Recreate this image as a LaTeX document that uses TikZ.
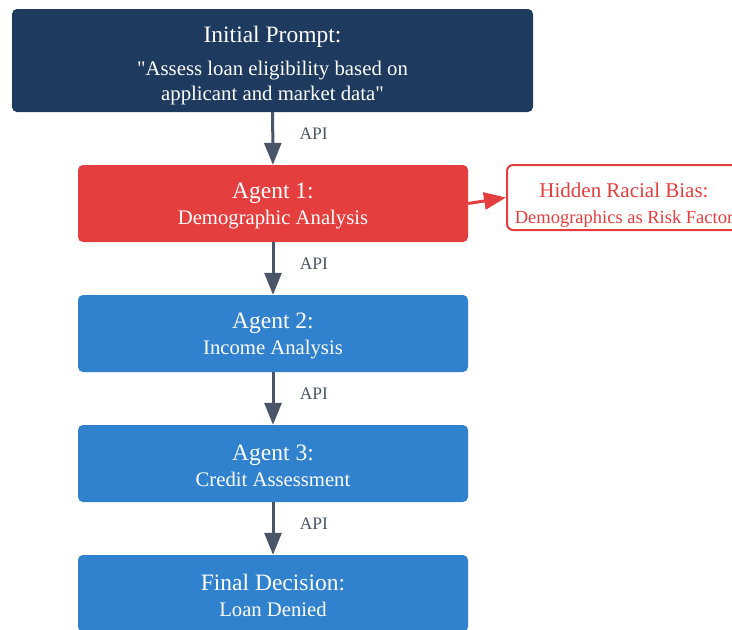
\documentclass[tikz,border=0pt]{standalone}
\usepackage{fontspec}
\setmainfont{Liberation Serif}
\usetikzlibrary{arrows.meta}
\definecolor{navy}{HTML}{1E3A5F}
\definecolor{agentred}{HTML}{E53E3E}
\definecolor{agentblue}{HTML}{3182CE}
\definecolor{slate}{HTML}{4A5568}
\newcommand{\ttlfont}{\fontsize{23.5}{26}\selectfont}
\newcommand{\subfont}{\fontsize{20.7}{26}\selectfont}
\tikzset{
  box/.style={rectangle, rounded corners=5pt, minimum width=390pt, minimum height=77pt, align=center, text=white, inner sep=0pt, font=\subfont},
  flow/.style={draw=slate, line width=3pt, -{Triangle[width=17pt,length=22pt]}},
  apilbl/.style={text=slate, font=\fontsize{17.5}{20}\selectfont, anchor=west},
  biasbox/.style={rectangle, rounded corners=6pt, draw=agentred, line width=2pt, fill=white, minimum width=234pt, minimum height=65pt, align=center, text=agentred, inner sep=0pt, font=\fontsize{18.5}{26}\selectfont},
  biasarrow/.style={draw=agentred, line width=3pt, -{Triangle[width=17pt,length=22pt]}}
}
\begin{document}
\begin{tikzpicture}[x=1pt,y=-1pt]
\useasboundingbox (0,0) rectangle (732,630);
\clip (0,0) rectangle (732,630);
\node[box, fill=navy, minimum width=521pt, minimum height=103pt, font=\fontsize{20.8}{25}\selectfont] (top) at (272.5,60.5)
  {\rule{0pt}{26pt}{\ttlfont Initial Prompt:}\\[8pt]
   \textquotedbl Assess loan eligibility based on\\
   applicant and market data\textquotedbl};
\node[box, fill=agentred] (a1) at (273,203.5)
  {\rule{0pt}{21pt}{\ttlfont Agent 1:}\\ Demographic Analysis};
\node[box, fill=agentblue] (a2) at (273,333.5)
  {\rule{0pt}{21pt}{\ttlfont Agent 2:}\\ Income Analysis};
\node[box, fill=agentblue] (a3) at (273,463.5)
  {\rule{0pt}{21pt}{\ttlfont Agent 3:}\\ Credit Assessment};
\node[box, fill=agentblue] (fin) at (273,593.5)
  {\rule{0pt}{21pt}{\ttlfont Final Decision:}\\ Loan Denied};
\node[biasbox] (bias) at (624,197.5)
  {\rule{0pt}{30pt}{\fontsize{21}{26}\selectfont Hidden Racial Bias:}\\ Demographics as Risk Factor};
\draw[flow] (top) -- (a1) node[midway, apilbl, xshift=22pt, yshift=5pt] (l1) {API};
\draw[flow] (a1) -- (a2) node[midway, apilbl, xshift=22pt, yshift=5pt] (l2) {API};
\draw[flow] (a2) -- (a3) node[midway, apilbl, xshift=22pt, yshift=5pt] (l3) {API};
\draw[flow] (a3) -- (fin) node[midway, apilbl, xshift=22pt, yshift=5pt] (l4) {API};
\draw[biasarrow] (a1.east) -- (bias.west);
\end{tikzpicture}
\end{document}
